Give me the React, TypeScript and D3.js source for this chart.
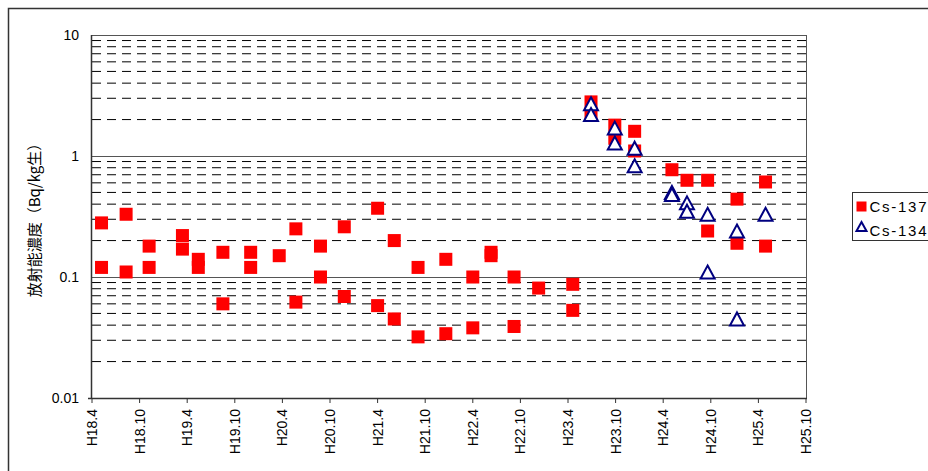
import React, { useEffect, useRef } from "react";
import * as d3 from "d3";

// months counted from H18.4
const xTickLabels = [
  "H18.4", "H18.10", "H19.4", "H19.10", "H20.4", "H20.10", "H21.4", "H21.10",
  "H22.4", "H22.10", "H23.4", "H23.10", "H24.4", "H24.10", "H25.4", "H25.10",
];
const yTickValues = [0.01, 0.1, 1, 10];
const yTickLabels = ["0.01", "0.1", "1", "10"];

const cs137Months = [
  1.2, 1.2, 4.3, 4.3, 7.2, 7.2, 11.4, 11.4, 13.4, 13.4, 16.5, 16.5, 20.0, 20.0,
  23.6, 25.7, 25.7, 28.8, 28.8, 31.8, 31.8, 36.0, 36.0, 38.1, 38.1, 41.1, 41.1,
  44.6, 44.6, 48.0, 48.0, 50.3, 50.3, 53.2, 53.2, 56.3, 60.6, 60.6, 62.9, 62.9,
  65.9, 65.9, 68.4, 68.4, 73.1, 75.0, 77.6, 77.6, 81.3, 81.3, 84.9, 84.9,
];
const cs137Values = [
  0.28, 0.12, 0.33, 0.11, 0.18, 0.12, 0.22, 0.17, 0.14, 0.12, 0.16, 0.06, 0.16, 0.12,
  0.15, 0.25, 0.062, 0.18, 0.10, 0.26, 0.069, 0.37, 0.058, 0.20, 0.045, 0.12, 0.032,
  0.14, 0.034, 0.10, 0.038, 0.16, 0.15, 0.10, 0.039, 0.081, 0.087, 0.053, 2.8, 2.2,
  1.8, 1.4, 1.6, 1.1, 0.77, 0.63, 0.63, 0.24, 0.44, 0.19, 0.61, 0.18,
];

const cs134Months = [
  62.9, 62.9, 65.9, 65.9, 68.4, 68.4, 73.1, 73.1, 75.0, 75.0, 77.6, 77.6, 81.3, 81.3, 84.9,
];
const cs134Values = [
  2.7, 2.2, 1.7, 1.28, 1.16, 0.83, 0.5, 0.48, 0.41, 0.35, 0.33, 0.11, 0.24, 0.045, 0.33,
];

const seriesNames = ["Cs-137", "Cs-134"];

const App = () => {
  const ref = useRef<SVGSVGElement>(null);

  useEffect(() => {
    const svg = d3.select(ref.current);
    svg.selectAll("*").remove();

    const width = 928;
    const height = 471;
    const margin = { top: 35, right: 122, bottom: 73, left: 92 };
    const font = "'Liberation Sans', Arial, sans-serif";

    const x = d3
      .scaleLinear()
      .domain([0, (xTickLabels.length - 1) * 6])
      .range([margin.left, width - margin.right]);
    const y = d3
      .scaleLog()
      .domain([0.01, 10])
      .range([height - margin.bottom, margin.top]);

    // outer chart border
    svg.append("rect")
      .attr("x", 8.5).attr("y", 8.5)
      .attr("width", 940).attr("height", 480)
      .attr("fill", "none").attr("stroke", "#333").attr("stroke-width", 1.5);

    // minor gridlines (dashed)
    const minor: number[] = [];
    [0.01, 0.1, 1].forEach((d) => {
      for (let k = 2; k <= 9; k++) minor.push(d * k);
    });
    svg.append("g")
      .selectAll("line")
      .data(minor)
      .join("line")
      .attr("x1", margin.left).attr("x2", width - margin.right)
      .attr("y1", (d) => y(d)).attr("y2", (d) => y(d))
      .attr("stroke", "#000").attr("stroke-width", 1)
      .attr("stroke-dasharray", "9,6");

    // major gridlines
    svg.append("g")
      .selectAll("line")
      .data([0.1, 1, 10])
      .join("line")
      .attr("x1", margin.left).attr("x2", width - margin.right)
      .attr("y1", (d) => Math.round(y(d)) + 0.5).attr("y2", (d) => Math.round(y(d)) + 0.5)
      .attr("stroke", "#555").attr("stroke-width", 1);

    // right edge of plot area
    svg.append("line")
      .attr("x1", width - margin.right + 0.5).attr("x2", width - margin.right + 0.5)
      .attr("y1", margin.top).attr("y2", height - margin.bottom)
      .attr("stroke", "#555");

    // axes
    svg.append("line")
      .attr("x1", margin.left - 0.5).attr("x2", margin.left - 0.5)
      .attr("y1", margin.top).attr("y2", height - margin.bottom)
      .attr("stroke", "#333").attr("stroke-width", 1.5);
    svg.append("line")
      .attr("x1", margin.left - 4).attr("x2", width - margin.right + 1)
      .attr("y1", height - margin.bottom + 0.5).attr("y2", height - margin.bottom + 0.5)
      .attr("stroke", "#333").attr("stroke-width", 1.5);

    // x ticks and labels
    const xg = svg.append("g");
    xg.selectAll("line")
      .data(xTickLabels)
      .join("line")
      .attr("x1", (_, i) => x(i * 6)).attr("x2", (_, i) => x(i * 6))
      .attr("y1", height - margin.bottom).attr("y2", height - margin.bottom + 5)
      .attr("stroke", "#333");
    xg.selectAll("text")
      .data(xTickLabels)
      .join("text")
      .attr("transform", (_, i) => `translate(${x(i * 6)},${height - margin.bottom + 11}) rotate(-90)`)
      .attr("text-anchor", "end")
      .attr("dy", "0.35em")
      .attr("font-family", font)
      .attr("font-size", 14)
      .attr("fill", "#000")
      .text((d) => d);

    // y tick labels
    svg.append("g")
      .selectAll("text")
      .data(yTickValues)
      .join("text")
      .attr("x", margin.left - 13)
      .attr("y", (d) => y(d))
      .attr("dy", "0.36em")
      .attr("text-anchor", "end")
      .attr("font-family", font)
      .attr("font-size", 14)
      .attr("fill", "#000")
      .text((_, i) => yTickLabels[i]);

    // y axis title
    svg.append("text")
      .attr("transform", `translate(35,${(margin.top + height - margin.bottom) / 2}) rotate(-90)`)
      .attr("text-anchor", "middle")
      .attr("dy", "0.35em")
      .attr("font-family", "'Noto Sans CJK JP', sans-serif")
      .attr("font-size", 15)
      .attr("fill", "#000")
      .text("放射能濃度（Bq/kg生）");

    const sq = 13;
    const tri = (cx: number, cy: number, w: number, h: number) =>
      `M${cx},${cy - h / 2}L${cx + w / 2},${cy + h / 2}L${cx - w / 2},${cy + h / 2}Z`;

    // Cs-137 squares
    svg.append("g")
      .selectAll("rect")
      .data(cs137Values)
      .join("rect")
      .attr("x", (_, i) => x(cs137Months[i]) - sq / 2)
      .attr("y", (d) => y(d) - sq / 2)
      .attr("width", sq).attr("height", sq)
      .attr("fill", "#ff0000");

    // Cs-134 triangles
    svg.append("g")
      .selectAll("path")
      .data(cs134Values)
      .join("path")
      .attr("d", (d, i) => tri(x(cs134Months[i]), y(d), 14, 13))
      .attr("fill", "#fff")
      .attr("stroke", "#000080")
      .attr("stroke-width", 2);

    // legend
    const lg = svg.append("g").attr("transform", "translate(852.5,192.5)");
    lg.append("rect")
      .attr("width", 100).attr("height", 48)
      .attr("fill", "#fff").attr("stroke", "#333");
    lg.append("rect")
      .attr("x", 4).attr("y", 9).attr("width", 10).attr("height", 10)
      .attr("fill", "#ff0000");
    lg.append("path")
      .attr("d", tri(9, 34, 10, 9))
      .attr("fill", "#fff").attr("stroke", "#000080").attr("stroke-width", 2);
    lg.selectAll("text.lbl")
      .data(seriesNames)
      .join("text")
      .attr("class", "lbl")
      .attr("x", 17)
      .attr("y", (_, i) => 19 + i * 24)
      .attr("font-family", font)
      .attr("font-size", 15)
      .attr("textLength", 57)
      .attr("lengthAdjust", "spacing")
      .attr("fill", "#000")
      .text((d) => d);
  }, []);

  return (
    <svg
      ref={ref}
      width={928}
      height={471}
      style={{ position: "absolute", left: 0, top: 0, background: "#fff" }}
    ></svg>
  );
};

export default App;
